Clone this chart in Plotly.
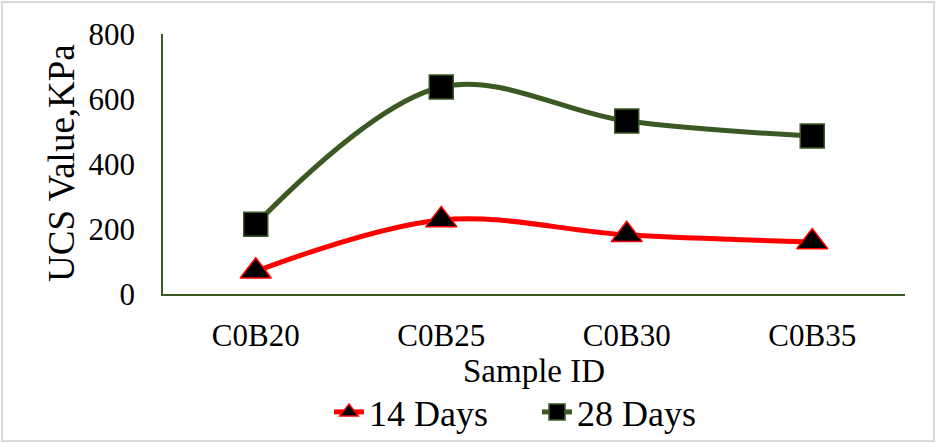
import plotly.graph_objects as go

samples = ["C0B20", "C0B25", "C0B30", "C0B35"]
days14 = [70, 228, 182, 160]
days28 = [215, 637, 532, 486]
y_ticks = [0, 200, 400, 600, 800]

W, H = 936, 443
ML, MR, MT, MB = 163, 31, 34, 149
PW, PH = W - ML - MR, H - MT - MB

GREEN = "#3b5a23"
RED = "#ff0000"
FONT = "Liberation Serif, Times New Roman, serif"

fig = go.Figure()
fig.add_trace(go.Scatter(
    x=samples, y=days14, name="14 Days", mode="lines+markers",
    line=dict(color=RED, width=5, shape="spline", smoothing=1.0),
    marker=dict(symbol="triangle-up", size=27, color="black",
                line=dict(color=RED, width=1.5)),
))
fig.add_trace(go.Scatter(
    x=samples, y=days28, name="28 Days", mode="lines+markers",
    line=dict(color=GREEN, width=5, shape="spline", smoothing=1.0),
    marker=dict(symbol="square", size=24, color="black",
                line=dict(color=GREEN, width=1.5)),
))

# light frame around the whole figure
fig.add_shape(
    type="rect", xref="paper", yref="paper",
    x0=(2 - ML) / PW, x1=(W - 2 - ML) / PW,
    y0=-(H - 2 - MT - PH) / PH, y1=1 + (MT - 2) / PH,
    line=dict(color="#d9d9d9", width=2), fillcolor="rgba(0,0,0,0)", layer="below",
)

# vertical axis title
fig.add_annotation(
    text="UCS Value,KPa", textangle=-90, showarrow=False,
    xref="paper", yref="paper", x=(61 - ML) / PW, y=(MT + PH - 163) / PH,
    xanchor="center", yanchor="middle",
    font=dict(size=37, family=FONT, color="black"),
)

fig.update_layout(
    width=W, height=H,
    margin=dict(l=ML, r=MR, t=MT, b=MB, pad=0, autoexpand=False),
    paper_bgcolor="white", plot_bgcolor="white",
    font=dict(family=FONT, color="black"),
    showlegend=True,
    legend=dict(orientation="h", x=(329 - ML) / PW, y=(MT + PH - 412) / PH,
                xanchor="left", yanchor="middle", bgcolor="rgba(0,0,0,0)",
                font=dict(size=36, family=FONT), entrywidth=163,
                entrywidthmode="pixels", tracegroupgap=0),
    xaxis=dict(
        range=[-0.5, 3.5], automargin=False,
        showline=True, linecolor=GREEN, linewidth=1.5, showgrid=False,
        ticks="", tickfont=dict(size=31), ticklabelstandoff=13,
        title=dict(text="Sample ID", font=dict(size=33), standoff=4),
        zeroline=False,
    ),
    yaxis=dict(
        range=[0, 800], tickvals=y_ticks, showline=True, linecolor=GREEN,
        linewidth=1.5, showgrid=False, ticks="", zeroline=False, automargin=False,
        tickfont=dict(size=31), ticklabelstandoff=20,
    ),
)

fig.write_html("out.html")
